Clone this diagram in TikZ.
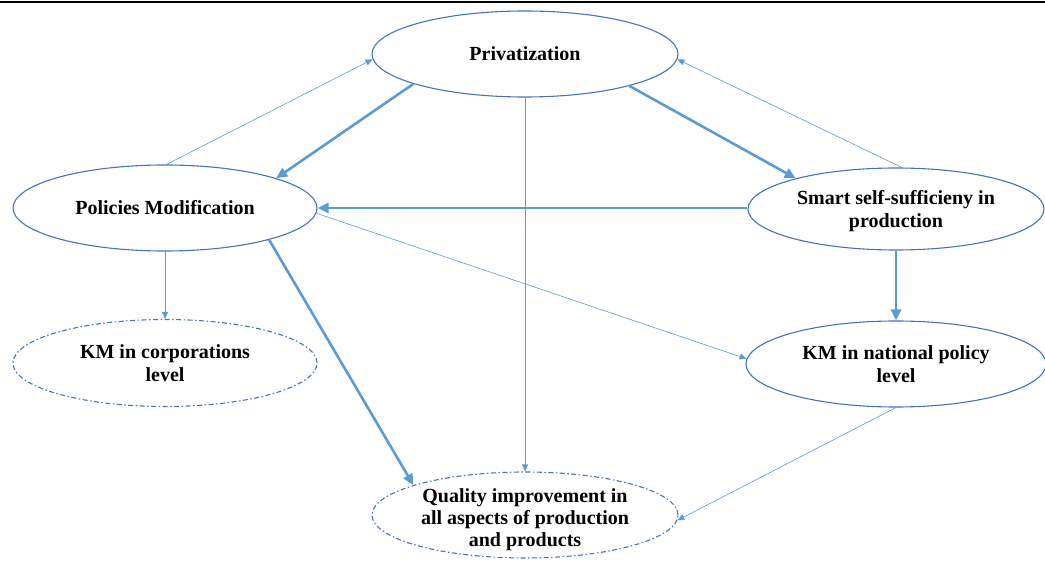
\documentclass[tikz,border=0pt]{standalone}
\usepackage{fontspec}
\setmainfont{Liberation Serif}
\usetikzlibrary{shapes.geometric,arrows.meta}
\definecolor{ell}{HTML}{4472C4}
\definecolor{arr}{HTML}{5B9BD5}
\begin{document}
\begin{tikzpicture}[x=1pt,y=-1pt,
 oval/.style={ellipse, draw=ell, line width=1.1pt, inner sep=0pt},
 dashoval/.style={oval, dash pattern=on 5pt off 2.5pt on 1.5pt off 2.5pt},
 lbl/.style={font=\fontsize{20}{23}\selectfont\bfseries, align=center, inner sep=0pt},
 thickarr/.style={draw=arr, line width=2.6pt, -{Triangle[length=11pt,width=10pt]}},
 thinarr/.style={draw=arr, line width=0.6pt, -{Triangle[length=7pt,width=6pt]}}]
\useasboundingbox (0,0) rectangle (1045,561);
\draw[line width=2.5pt] (0,2.2) -- (1045,2.2);

\node[oval, minimum width=306pt, minimum height=86pt, label={[lbl]center:Privatization}] (priv) at (525,54) {};
\node[oval, minimum width=304pt, minimum height=86pt, label={[lbl]center:Policies Modification}] (pol) at (165,208) {};
\node[oval, minimum width=296pt, minimum height=82pt, label={[lbl, yshift=-2pt]center:Smart self-sufficieny in\\production}] (smart) at (896,209) {};
\node[dashoval, minimum width=304pt, minimum height=87pt, label={[lbl]center:KM in corporations\\level}] (kmc) at (165,363) {};
\node[oval, minimum width=300pt, minimum height=86pt, label={[lbl]center:KM in national policy\\level}] (kmn) at (896,364) {};
\node[dashoval, minimum width=306pt, minimum height=86pt, label={[lbl, font=\fontsize{20}{22}\selectfont\bfseries, yshift=-5pt]center:Quality improvement in\\all aspects of production\\and products}] (qual) at (525,515) {};

\draw[thickarr] (priv.195.7) -- (pol.15.7);
\draw[thickarr] (priv.343.8) -- (smart.163.2);
\draw[thickarr] (smart.west |- pol.east) -- (pol.east);
\draw[thickarr] (smart.south) -- (kmn.north);
\draw[thickarr] (pol.343.4) -- (qual.165);
\draw[thinarr] (priv.south) -- (qual.north);
\draw[thinarr] (pol.south) -- (kmc.north);
\draw[thinarr] (pol.88) -- (priv.182);
\draw[thinarr] (smart.82) -- (priv.358);
\draw[thinarr] (pol.358) -- (kmn.178);
\draw[thinarr] (kmn.270) -- (qual.358);
\end{tikzpicture}
\end{document}
